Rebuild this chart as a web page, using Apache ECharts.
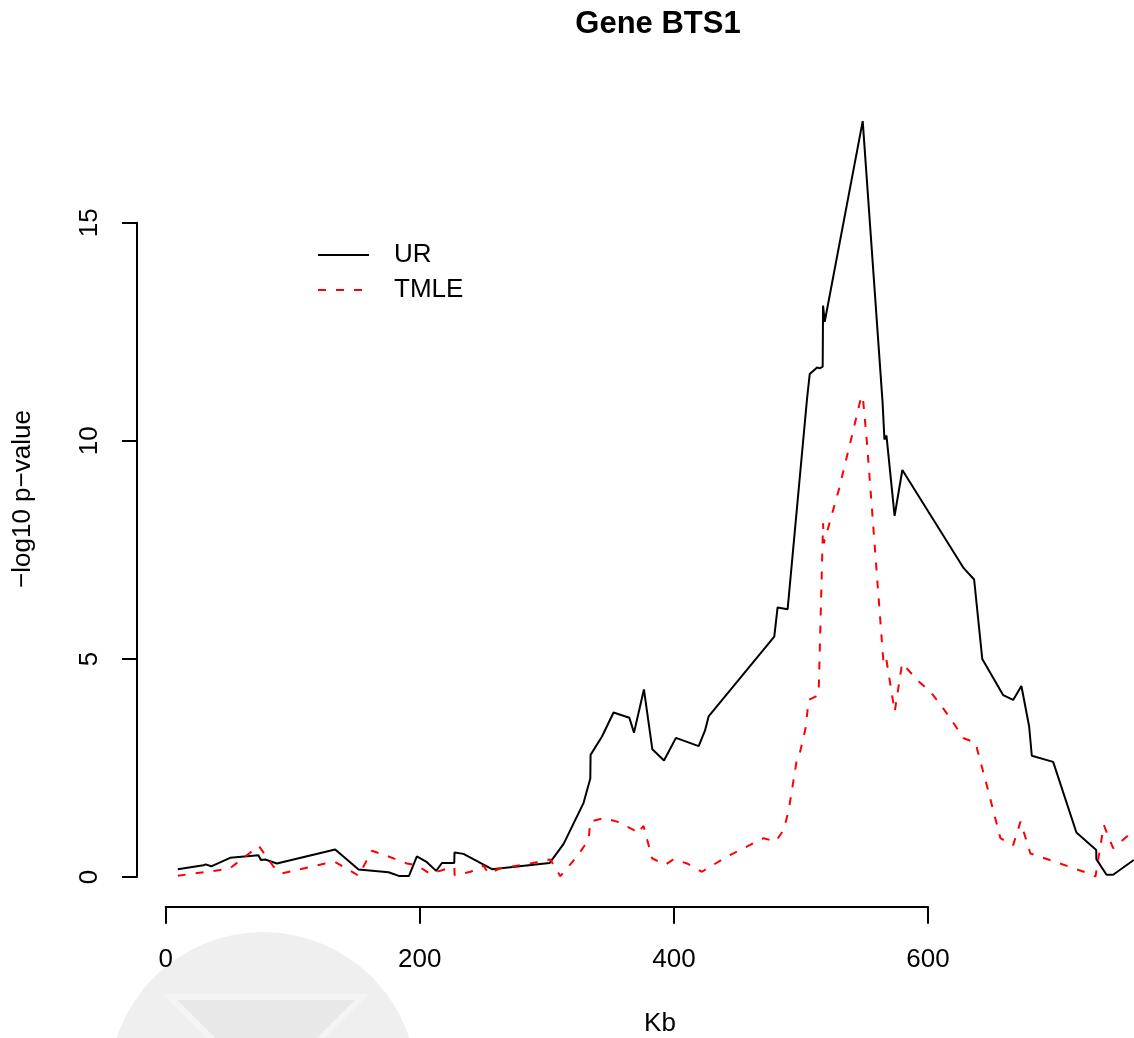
<!DOCTYPE html>
<html>
<head>
<meta charset="utf-8">
<script src="https://cdn.jsdelivr.net/npm/echarts@6/dist/echarts.min.js"></script>
<style>
html,body{margin:0;padding:0;background:#fff;}
#chart{width:1134px;height:1038px;}
</style>
</head>
<body>
<div id="chart"></div>
<script>
// Position along the region (Kb)
var urKb = [9.5,29.7,31.5,35.8,50.7,73,74.9,78.3,87.5,133.4,151.8,175.4,184,191.4,197.7,205.6,212.9,217.4,227.1,227.3,234.4,256.8,302.1,313.2,328.9,334.2,334.4,343.4,352.5,364.9,368.6,376.4,383,392.2,401.6,419.5,424.5,427.3,479,481.6,489.5,504.8,506.9,512.7,514.7,517.1,517.4,518.7,548.6,564.2,565.7,567.3,573.7,579.8,628.1,636.3,642.7,659.1,667,673.5,679.6,681.7,698.5,716.8,732.4,732.5,740.5,745.7,762];
var urVal = [0.18,0.27,0.29,0.245,0.44,0.50,0.39,0.40,0.31,0.63,0.17,0.11,0.02,0.02,0.47,0.34,0.14,0.32,0.32,0.56,0.53,0.18,0.32,0.76,1.70,2.26,2.80,3.22,3.77,3.65,3.31,4.30,2.93,2.67,3.19,3.00,3.36,3.68,5.51,6.18,6.14,10.97,11.53,11.68,11.66,11.70,13.10,12.73,17.33,10.9,10.03,10.12,8.28,9.33,7.08,6.82,5.0,4.17,4.06,4.38,3.45,2.78,2.64,1.02,0.62,0.41,0.05,0.05,0.39];

var tmleKb = [9.5,42.8,50.7,62.5,73.3,84.8,91.4,125.5,133.4,151.8,162.3,175.4,189.9,197.7,208.2,220,227.2,227.4,240,250.2,254.1,263.3,287,302.7,310.6,323.7,332.8,334.2,344.7,355.2,368.3,370.9,376.1,382.8,393.2,399.8,410.3,422.1,441.8,470.6,479.9,486.4,490.4,496.9,499,503.6,506.1,513.9,517.4,518,530,540,547.6,548.9,552,565.1,567.3,573.8,579.6,592.7,601.9,612.4,620.3,628.1,637.3,645.2,657,667,672.8,680.6,689.8,722.6,731.8,738.4,745.7,759.4];
var tmleVal = [0.03,0.16,0.20,0.47,0.71,0.24,0.08,0.31,0.34,0.03,0.60,0.47,0.31,0.27,0.07,0.18,0.22,0.04,0.12,0.26,0.08,0.20,0.31,0.40,0.02,0.47,0.85,1.27,1.35,1.27,1.08,0.99,1.17,0.43,0.28,0.41,0.31,0.12,0.47,0.89,0.81,1.08,1.54,2.72,2.83,3.41,4.06,4.17,8.11,7.65,8.9,10.1,11.03,10.94,9.94,4.86,4.97,3.79,4.90,4.48,4.25,3.85,3.52,3.18,3.08,2.22,0.89,0.73,1.27,0.54,0.45,0.12,0.01,1.19,0.66,1.0];

var xTicks = [0, 200, 400, 600];
var yTicks = [0, 5, 10, 15];
var seriesNames = ['UR', 'TMLE'];

function pairs(xs, ys) { return xs.map(function (x, i) { return [x, ys[i]]; }); }

var FONT = 'Liberation Sans, Arial, Helvetica, sans-serif';
var chart = echarts.init(document.getElementById('chart'), null, {renderer: 'canvas'});

chart.setOption({
  animation: false,
  backgroundColor: '#ffffff',
  textStyle: {fontFamily: FONT, color: '#000'},
  title: [{
    text: 'Gene BTS1', left: 658, top: 9, padding: 0, textAlign: 'center',
    textStyle: {fontSize: 31, fontWeight: 'bold', color: '#000', fontFamily: FONT}
  }],
  graphic: [
    {type: 'circle', z: -10, shape: {cx: 263, cy: 1086, r: 154}, style: {fill: '#efefef'}},
    {type: 'polygon', z: -9, shape: {points: [[170, 997], [362, 997], [266, 1093]]},
     style: {fill: '#e8e8e8', stroke: '#f4f4f4', lineWidth: 6}}
  ],
  legend: {
    orient: 'vertical', left: 317, top: 242, padding: 0,
    itemWidth: 51, itemHeight: 26, itemGap: 9,
    itemStyle: {opacity: 0},
    textStyle: {fontSize: 26, color: '#000', fontFamily: FONT, padding: [0, 0, 0, 20]},
    data: seriesNames
  },
  grid: [
    {left: 137, width: 1046, top: 91, bottom: 131, outerBoundsMode: 'none'},
    {left: 165.7, right: 206, top: 222.7, bottom: 161, outerBoundsMode: 'none'}
  ],
  xAxis: [
    {type: 'value', gridIndex: 0, min: -22.6, max: 800.7,
     axisLine: {show: false}, axisTick: {show: false}, axisLabel: {show: false}, splitLine: {show: false},
     name: 'Kb', nameLocation: 'middle', nameGap: 104,
     nameTextStyle: {fontSize: 26, color: '#000', fontFamily: FONT}},
    {type: 'value', gridIndex: 1, min: xTicks[0], max: xTicks[xTicks.length - 1], interval: 200,
     offset: 29.7,
     axisLine: {show: true, onZero: false, lineStyle: {color: '#000', width: 2}},
     axisTick: {show: true, length: 17, lineStyle: {color: '#000', width: 2}},
     axisLabel: {fontSize: 26, color: '#000', fontFamily: FONT, margin: 40},
     splitLine: {show: false}}
  ],
  yAxis: [
    {type: 'value', gridIndex: 0, min: -0.688, max: 18.02,
     axisLine: {show: false}, axisTick: {show: false}, axisLabel: {show: false}, splitLine: {show: false},
     name: '\u2212log10 p\u2212value', nameLocation: 'middle', nameGap: 101,
     nameTextStyle: {fontSize: 26, color: '#000', fontFamily: FONT}},
    {type: 'value', gridIndex: 1, min: yTicks[0], max: yTicks[yTicks.length - 1], interval: 5,
     offset: 28.7,
     axisLine: {show: true, onZero: false, lineStyle: {color: '#000', width: 2}},
     axisTick: {show: true, length: 15, lineStyle: {color: '#000', width: 2}},
     axisLabel: {fontSize: 26, color: '#000', fontFamily: FONT, margin: 34, rotate: 90},
     splitLine: {show: false}}
  ],
  series: [
    {name: seriesNames[0], type: 'line', xAxisIndex: 0, yAxisIndex: 0, symbol: 'none',
     lineStyle: {color: '#000000', width: 2, type: 'solid'}, itemStyle: {color: '#000000'},
     data: pairs(urKb, urVal)},
    {name: seriesNames[1], type: 'line', xAxisIndex: 0, yAxisIndex: 0, symbol: 'none',
     lineStyle: {color: '#ff0000', width: 2, type: [8, 10]}, itemStyle: {color: '#ff0000'},
     data: pairs(tmleKb, tmleVal)}
  ]
});
</script>
</body>
</html>
